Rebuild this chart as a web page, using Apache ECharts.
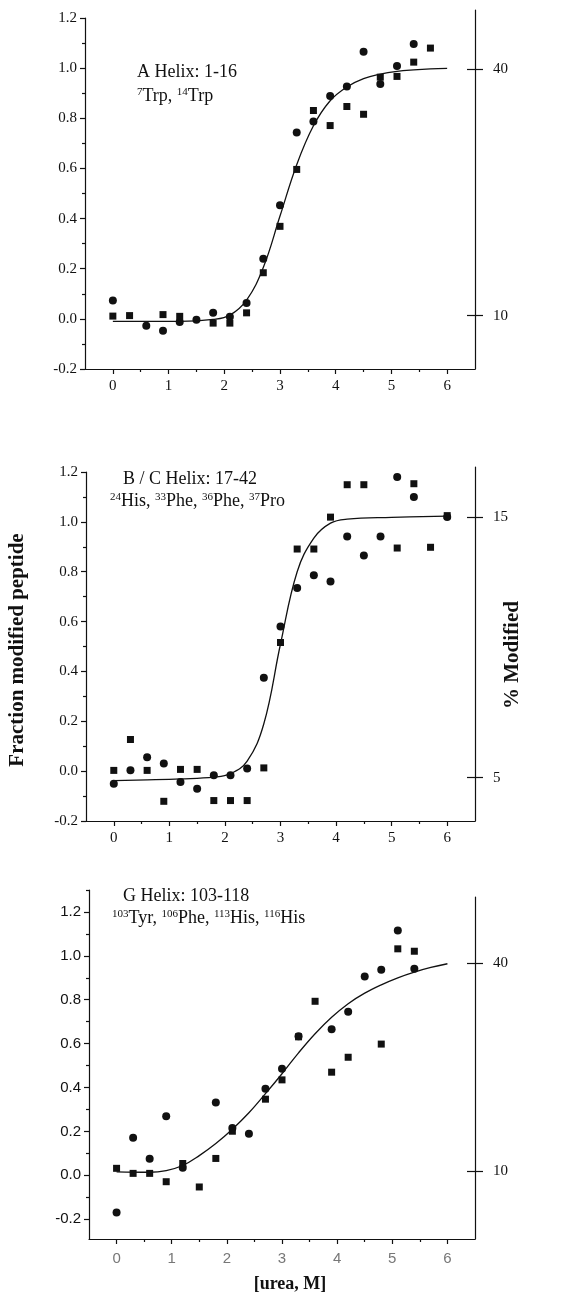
<html>
<head>
<meta charset="utf-8">
<script src="https://cdn.jsdelivr.net/npm/echarts@6.0.0/dist/echarts.min.js"></script>
<style>
  body { margin: 0; background: #fff; }
  #main { width: 577px; height: 1295px; }
</style>
</head>
<body>
<div id="main"></div>
<script>
// tick values
var xTicks = [0, 1, 2, 3, 4, 5, 6];
var xMinor = [0.5, 1.5, 2.5, 3.5, 4.5, 5.5];
var yTicks = [-0.2, 0, 0.2, 0.4, 0.6, 0.8, 1.0, 1.2];
var yMinor = [-0.1, 0.1, 0.3, 0.5, 0.7, 0.9, 1.1];
var yMinorG = [-0.1, 0.1, 0.3, 0.5, 0.7, 0.9, 1.1, 1.3];

// A helix
var aCircles = [[0, 0.073], [0.6, -0.027], [0.9, -0.047], [1.2, -0.013], [1.5, -0.004], [1.8, 0.024],
  [2.1, 0.008], [2.4, 0.063], [2.7, 0.24], [3.0, 0.453], [3.3, 0.743], [3.6, 0.787], [3.9, 0.889],
  [4.2, 0.927], [4.5, 1.065], [4.8, 0.937], [5.1, 1.009], [5.4, 1.096]];
var aSquares = [[0, 0.011], [0.3, 0.013], [0.9, 0.017], [1.2, 0.01], [1.8, -0.017], [2.1, -0.017],
  [2.4, 0.024], [2.7, 0.184], [3.0, 0.369], [3.3, 0.596], [3.6, 0.831], [3.9, 0.771], [4.2, 0.847],
  [4.5, 0.816], [4.8, 0.964], [5.1, 0.967], [5.4, 1.024], [5.7, 1.08]];
var aFit = [[0, -0.01], [0.6, -0.01], [1.2, -0.01], [1.8, -0.002], [2.1, 0.015], [2.4, 0.075],
  [2.7, 0.205], [3.0, 0.41], [3.3, 0.615], [3.6, 0.77], [3.9, 0.87], [4.2, 0.925], [4.5, 0.958],
  [4.8, 0.976], [5.1, 0.987], [5.4, 0.993], [5.7, 0.997], [6.0, 0.999]];
var aRight = [10, 40];

// B / C helix
var bCircles = [[0, -0.051], [0.3, 0.004], [0.6, 0.056], [0.9, 0.031], [1.2, -0.044], [1.5, -0.071],
  [1.8, -0.016], [2.1, -0.016], [2.4, 0.011], [2.7, 0.375], [3.0, 0.58], [3.3, 0.735], [3.6, 0.786],
  [3.9, 0.761], [4.2, 0.941], [4.5, 0.865], [4.8, 0.941], [5.1, 1.18], [5.4, 1.10], [6.0, 1.019]];
var bSquares = [[0, 0.003], [0.3, 0.127], [0.6, 0.003], [0.9, -0.121], [1.2, 0.007], [1.5, 0.007],
  [1.8, -0.118], [2.1, -0.118], [2.4, -0.118], [2.7, 0.013], [3.0, 0.516], [3.3, 0.891], [3.6, 0.891],
  [3.9, 1.019], [4.2, 1.149], [4.5, 1.149], [5.1, 0.895], [5.4, 1.153], [5.7, 0.898], [6.0, 1.025]];
var bFit = [[0, -0.038], [0.6, -0.035], [1.2, -0.031], [1.8, -0.024], [2.1, -0.01], [2.4, 0.04],
  [2.7, 0.19], [3.0, 0.51], [3.3, 0.8], [3.6, 0.935], [3.9, 0.995], [4.2, 1.011], [5.0, 1.018],
  [6.0, 1.023]];
var bRight = [5, 15];

// G helix
var gCircles = [[0, -0.169], [0.3, 0.171], [0.6, 0.076], [0.9, 0.269], [1.2, 0.035], [1.8, 0.332],
  [2.1, 0.216], [2.4, 0.189], [2.7, 0.394], [3.0, 0.486], [3.3, 0.634], [3.9, 0.666], [4.2, 0.745],
  [4.5, 0.906], [4.8, 0.937], [5.1, 1.115], [5.4, 0.941]];
var gSquares = [[0, 0.032], [0.3, 0.009], [0.6, 0.009], [0.9, -0.029], [1.2, 0.054], [1.5, -0.053],
  [1.8, 0.077], [2.1, 0.201], [2.7, 0.347], [3.0, 0.435], [3.3, 0.631], [3.6, 0.793], [3.9, 0.47],
  [4.2, 0.538], [4.8, 0.598], [5.1, 1.032], [5.4, 1.021]];
var gFit = [[0, 0.016], [0.6, 0.014], [0.9, 0.022], [1.2, 0.045], [1.5, 0.09], [1.8, 0.145],
  [2.1, 0.21], [2.4, 0.285], [2.7, 0.372], [3.0, 0.463], [3.3, 0.558], [3.6, 0.645], [3.9, 0.72],
  [4.2, 0.782], [4.5, 0.83], [4.8, 0.868], [5.1, 0.9], [5.4, 0.926], [5.7, 0.947], [6.0, 0.964]];
var gRight = [10, 40];

var ink = '#111';
var serif = 'Liberation Serif';
var sans = 'Liberation Sans';

var panels = [
  { circles: aCircles, squares: aSquares, fit: aFit, right: aRight, minor: yMinor,
    left: 85, width: 390, top: 18, height: 351, yMin: -0.2, yMax: 1.2,
    rTop: 10, rHeight: 359, rMin: 3.52, rMax: 47.2, font: serif, xColor: ink, xMargin: 10 },
  { circles: bCircles, squares: bSquares, fit: bFit, right: bRight, minor: yMinor,
    left: 86, width: 389, top: 472, height: 349, yMin: -0.2, yMax: 1.2,
    rTop: 467, rHeight: 354, rMin: 3.34, rMax: 16.91, font: serif, xColor: ink, xMargin: 10 },
  { circles: gCircles, squares: gSquares, fit: gFit, right: gRight, minor: yMinorG,
    left: 89, width: 386, top: 890, height: 349, yMin: -0.29, yMax: 1.3,
    rTop: 897, rHeight: 342, rMin: 0.27, rMax: 49.6, font: sans, xColor: '#777', xMargin: 12 }
];

var grids = [], xAxes = [], yAxes = [], series = [];
var line = { color: ink, width: 1.2 };

panels.forEach(function (p) {
  var g = grids.length;
  grids.push({ left: p.left, top: p.top, width: p.width, height: p.height, outerBoundsMode: 'none' });
  grids.push({ left: p.left, top: p.rTop, width: p.width, height: p.rHeight, outerBoundsMode: 'none' });

  var xi = xAxes.length;
  xAxes.push({ gridIndex: g, type: 'value', min: -0.5, max: 6.5, position: 'bottom',
    axisLine: { onZero: false, lineStyle: line },
    axisTick: { customValues: xTicks, length: 5, lineStyle: line },
    axisLabel: { customValues: xTicks, margin: p.xMargin, fontFamily: p.font, fontSize: 15, color: p.xColor },
    splitLine: { show: false } });
  xAxes.push({ gridIndex: g, type: 'value', min: -0.5, max: 6.5, position: 'bottom',
    axisLine: { show: false, onZero: false },
    axisTick: { customValues: xMinor, length: 3, lineStyle: line },
    axisLabel: { show: false }, splitLine: { show: false } });
  xAxes.push({ gridIndex: g + 1, type: 'value', min: 0, max: 1, show: false });

  var yi = yAxes.length;
  yAxes.push({ gridIndex: g, type: 'value', min: p.yMin, max: p.yMax, position: 'left',
    axisLine: { show: true, onZero: false, lineStyle: line },
    axisTick: { show: true, customValues: yTicks, length: 5, lineStyle: line },
    axisLabel: { customValues: yTicks, margin: 8, fontFamily: p.font, fontSize: 15, color: ink,
      formatter: function (v) { return v.toFixed(1); } },
    splitLine: { show: false } });
  yAxes.push({ gridIndex: g, type: 'value', min: p.yMin, max: p.yMax, position: 'left',
    axisLine: { show: false, onZero: false },
    axisTick: { show: true, customValues: p.minor, length: 3, lineStyle: line },
    axisLabel: { show: false }, splitLine: { show: false } });
  yAxes.push({ gridIndex: g + 1, type: 'value', min: p.rMin, max: p.rMax, position: 'right',
    axisLine: { show: true, onZero: false, lineStyle: line },
    axisTick: { show: true, customValues: p.right, length: 8, lineStyle: line },
    axisLabel: { customValues: p.right, margin: 18, fontFamily: serif, fontSize: 15, color: ink },
    splitLine: { show: false } });
  yAxes.push({ gridIndex: g + 1, type: 'value', min: p.rMin, max: p.rMax, position: 'right',
    axisLine: { show: false, onZero: false },
    axisTick: { show: true, inside: true, customValues: p.right, length: 8, lineStyle: line },
    axisLabel: { show: false }, splitLine: { show: false } });

  series.push({ type: 'line', xAxisIndex: xi, yAxisIndex: yi, data: p.fit, showSymbol: false,
    smooth: 0.4, lineStyle: { color: ink, width: 1.3 }, silent: true });
  series.push({ type: 'scatter', xAxisIndex: xi, yAxisIndex: yi, data: p.circles, symbol: 'circle',
    symbolSize: 8, itemStyle: { color: ink, opacity: 1 } });
  series.push({ type: 'scatter', xAxisIndex: xi, yAxisIndex: yi, data: p.squares, symbol: 'rect',
    symbolSize: 7, itemStyle: { color: ink, opacity: 1 } });
});

var rich = {
  t: { fontFamily: serif, fontSize: 18, color: ink, lineHeight: 20, verticalAlign: 'bottom' },
  s: { fontFamily: serif, fontSize: 11, color: ink, lineHeight: 20, verticalAlign: 'bottom', padding: [0, 0, 7, 0] }
};
function label(x, y, text) {
  return { type: 'text', x: x, y: y, style: { text: text, rich: rich, verticalAlign: 'middle', fill: ink } };
}

var option = {
  animation: false,
  backgroundColor: '#fff',
  grid: grids,
  xAxis: xAxes,
  yAxis: yAxes,
  series: series,
  graphic: [
    label(137, 71, '{t|A Helix: 1-16}'),
    label(137, 95, '{s|7}{t|Trp, }{s|14}{t|Trp}'),
    label(123, 478, '{t|B / C Helix: 17-42}'),
    label(110, 500, '{s|24}{t|His, }{s|33}{t|Phe, }{s|36}{t|Phe, }{s|37}{t|Pro}'),
    label(123, 895, '{t|G Helix: 103-118}'),
    label(112, 917, '{s|103}{t|Tyr, }{s|106}{t|Phe, }{s|113}{t|His, }{s|116}{t|His}'),
    { type: 'text', x: 18, y: 650, rotation: Math.PI / 2,
      style: { text: 'Fraction modified peptide', fontFamily: serif, fontWeight: 'bold', fontSize: 21,
        fill: ink, align: 'center', verticalAlign: 'middle' } },
    { type: 'text', x: 513, y: 655, rotation: Math.PI / 2,
      style: { text: '% Modified', fontFamily: serif, fontWeight: 'bold', fontSize: 21,
        fill: ink, align: 'center', verticalAlign: 'middle' } },
    { type: 'text', x: 290, y: 1284,
      style: { text: '[urea, M]', fontFamily: serif, fontWeight: 'bold', fontSize: 18,
        fill: ink, align: 'center', verticalAlign: 'middle' } }
  ]
};

var myChart = echarts.init(document.getElementById('main'));
myChart.setOption(option);
</script>
</body>
</html>
